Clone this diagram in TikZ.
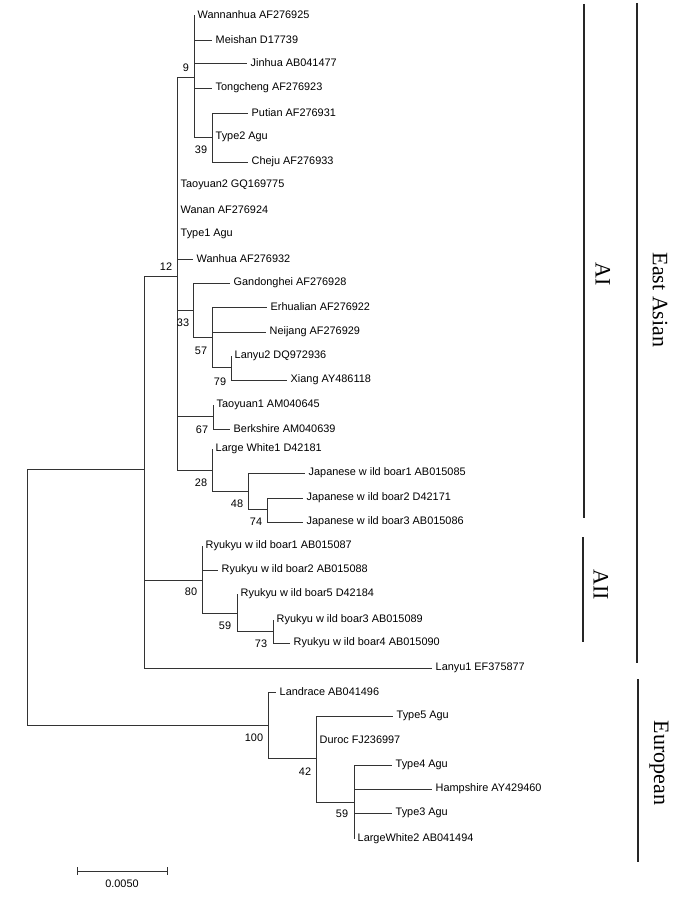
\documentclass[tikz,border=0pt]{standalone}
\usepackage{fontspec}
\setmainfont{Liberation Sans}
\newfontfamily\cladefont{Liberation Serif}

\begin{document}
\begin{tikzpicture}[x=1pt,y=-1pt,
    branch/.style={line width=0.9pt, draw=black!80},
    leaf/.style={anchor=west, inner sep=3.5pt, font=\fontsize{10.9}{12}\selectfont},
    boot/.style={inner sep=0pt, font=\fontsize{10.9}{12}\selectfont},
    clade/.style={rotate=-90, inner sep=0pt, font=\cladefont\fontsize{22}{24}\selectfont},
    bar/.style={line width=1.2pt, draw=black!85}]
    \useasboundingbox (0,0) rectangle (691,904);

    % Define internal nodes (x of the vertical, y where it meets its parent)
    \coordinate (root) at (27,597);
    \coordinate (ea) at (144,469);
    \coordinate (n12) at (177,276);
    \coordinate (n9) at (194,77);
    \coordinate (n39) at (212,137);
    \coordinate (n33) at (193,310);
    \coordinate (n57) at (212,337);
    \coordinate (n79) at (231,367);
    \coordinate (n67) at (213,416);
    \coordinate (n28) at (212,470);
    \coordinate (n48) at (248,491);
    \coordinate (n74) at (267,509);
    \coordinate (n80) at (202,580);
    \coordinate (n59) at (237,613);
    \coordinate (n73) at (273,631);
    \coordinate (n100) at (268,725);
    \coordinate (n42) at (316,758);
    \coordinate (n59b) at (354,802);

    % Leaves
    \foreach \n/\x/\y/\t in {
        wannanhua/194/15/Wannanhua AF276925,
        meishan/212/40/Meishan D17739,
        jinhua/247/63/Jinhua AB041477,
        tongcheng/212/88/Tongcheng AF276923,
        putian/248/113/Putian AF276931,
        type2/212/137/Type2 Agu,
        cheju/248/162/Cheju AF276933,
        taoyuan2/177/185/Taoyuan2 GQ169775,
        wanan/177/210/Wanan AF276924,
        type1/177/234/Type1 Agu,
        wanhua/193/259/Wanhua AF276932,
        gandonghei/230/283/Gandonghei AF276928,
        erhualian/267/307/Erhualian AF276922,
        neijang/266/332/Neijang AF276929,
        lanyu2/231/356/Lanyu2 DQ972936,
        xiang/287/380/Xiang AY486118,
        taoyuan1/213/405/Taoyuan1 AM040645,
        berkshire/230/429/Berkshire AM040639,
        lw1/212/449/Large White1 D42181,
        jwb1/305/473/Japanese w ild boar1 AB015085,
        jwb2/303/498/Japanese w ild boar2 D42171,
        jwb3/303/522/Japanese w ild boar3 AB015086,
        rwb1/202/546/Ryukyu w ild boar1 AB015087,
        rwb2/218/570/Ryukyu w ild boar2 AB015088,
        rwb5/237/594/Ryukyu w ild boar5 D42184,
        rwb3/273/620/Ryukyu w ild boar3 AB015089,
        rwb4/290/643/Ryukyu w ild boar4 AB015090,
        lanyu1/432/668/Lanyu1 EF375877,
        landrace/276/692/Landrace AB041496,
        type5/393/716/Type5 Agu,
        duroc/316/740/Duroc FJ236997,
        type4/392/765/Type4 Agu,
        hampshire/432/789/Hampshire AY429460,
        type3/392/813/Type3 Agu,
        lw2/354/839/LargeWhite2 AB041494} {
        \node[leaf] (\n) at (\x,\y) {\t};
    }

    % Draw edges
    \foreach \p/\c in {root/ea, root/n100, ea/n12, ea/n80, n12/n9, n12/n33,
        n12/n67, n12/n28, n9/n39, n33/n57, n57/n79, n28/n48, n48/n74,
        n80/n59, n59/n73, n100/n42, n42/n59b}
        \draw[branch] (\p) |- (\c);
    \foreach \p/\c in {ea/lanyu1, n12/taoyuan2, n12/wanan, n12/type1, n12/wanhua,
        n9/wannanhua, n9/meishan, n9/jinhua, n9/tongcheng, n39/putian, n39/type2,
        n39/cheju, n33/gandonghei, n57/erhualian, n57/neijang, n79/lanyu2,
        n79/xiang, n67/taoyuan1, n67/berkshire, n28/lw1, n48/jwb1, n74/jwb2,
        n74/jwb3, n80/rwb1, n80/rwb2, n59/rwb5, n73/rwb3, n73/rwb4,
        n100/landrace, n42/type5, n42/duroc, n59b/type4, n59b/hampshire,
        n59b/type3, n59b/lw2}
        \draw[branch] (\p) |- (\c.west);

    % Bootstrap values
    \foreach \n/\x/\y/\t in {b9/186/68/9, b12/166/267/12, b39/201/150/39,
        b33/183/323/33, b57/201/351/57, b79/220/382/79, b67/202/430/67,
        b28/201/483/28, b48/237/504/48, b74/256/522/74, b80/191/592/80,
        b59/225/626/59, b73/261/644/73, b100/254/738/100, b42/305/772/42,
        b59b/342/814/59}
        \node[boot] (\n) at (\x,\y) {\t};

    % Scale bar
    \coordinate (sbl) at (77,871);
    \coordinate (sbr) at (167,871);
    \draw[branch] (sbl) -- (sbr);
    \draw[branch] ([yshift=4pt]sbl) -- ([yshift=-4pt]sbl);
    \draw[branch] ([yshift=4pt]sbr) -- ([yshift=-4pt]sbr);
    \node[boot] (sblabel) at (122,884) {0.0050};

    % Clades
    \coordinate (aitop) at (584,4);
    \coordinate (aibot) at (584,518);
    \coordinate (aiitop) at (583,537);
    \coordinate (aiibot) at (583,642);
    \coordinate (eatop) at (637,3);
    \coordinate (eabot) at (637,663);
    \coordinate (eutop) at (638,679);
    \coordinate (eubot) at (638,862);
    \draw[bar] (aitop) -- (aibot);
    \draw[bar] (aiitop) -- (aiibot);
    \draw[bar] (eatop) -- (eabot);
    \draw[bar] (eutop) -- (eubot);
    \node[clade] (ai) at (603,274) {AI};
    \node[clade] (aii) at (601,585) {AII};
    \node[clade] (eastasian) at (660,300) {East Asian};
    \node[clade] (european) at (659,763) {European};
\end{tikzpicture}
\end{document}
